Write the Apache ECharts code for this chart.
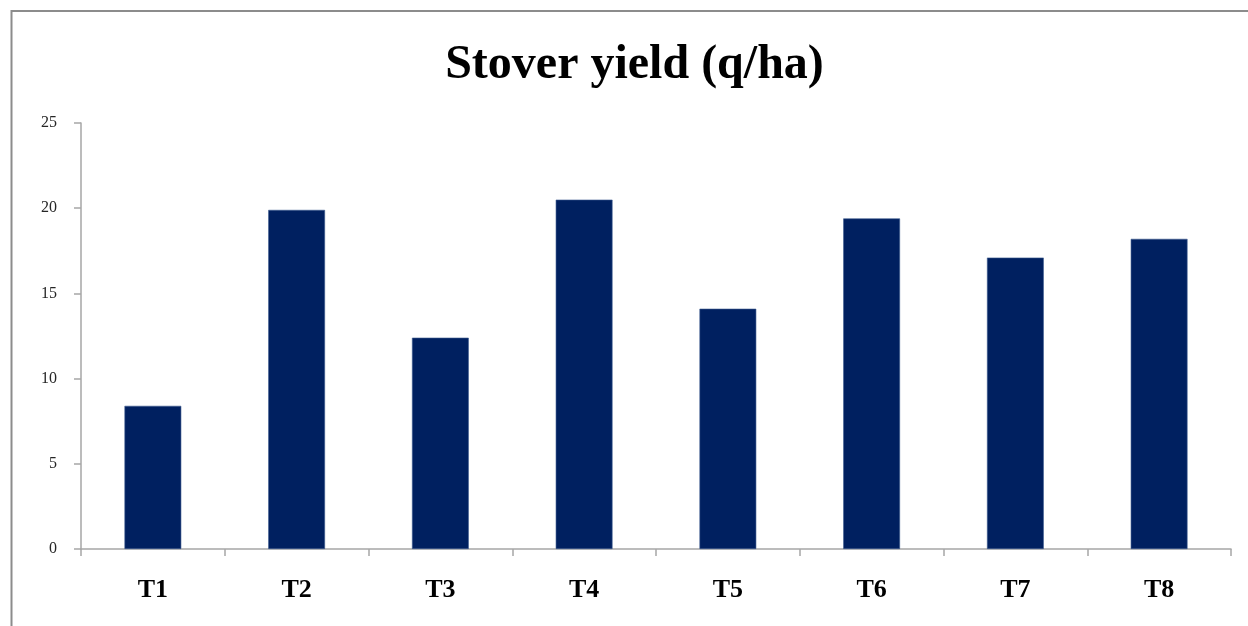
<!DOCTYPE html>
<html>
<head>
<meta charset="utf-8">
<script src="https://cdn.jsdelivr.net/npm/echarts@6/dist/echarts.min.js"></script>
<style>
  html, body { margin: 0; padding: 0; background: #ffffff; }
  #chart { width: 1248px; height: 626px; }
</style>
</head>
<body>
<div id="chart"></div>
<script>
// Treatments and stover yield (q/ha)
const categories = ['T1', 'T2', 'T3', 'T4', 'T5', 'T6', 'T7', 'T8'];
const stoverYield = [8.4, 19.9, 12.4, 20.5, 14.1, 19.4, 17.1, 18.2];
const yTicks = { min: 0, max: 25, interval: 5 };
const titleText = 'Stover yield (q/ha)';

const serif = '"Liberation Serif", "Times New Roman", serif';
const chart = echarts.init(document.getElementById('chart'), null, { renderer: 'canvas' });

chart.setOption({
  animation: false,
  backgroundColor: '#ffffff',
  graphic: [
    {
      // outer frame of the chart area
      type: 'rect',
      shape: { x: 11.5, y: 11, width: 1400, height: 800 },
      style: { fill: 'none', stroke: '#8c8c8c', lineWidth: 2 },
      silent: true
    },
    {
      type: 'text',
      x: 634.5,
      y: 66,
      style: {
        text: titleText,
        font: 'bold 48px ' + serif,
        fill: '#000000',
        align: 'center',
        verticalAlign: 'middle'
      }
    }
  ],
  grid: { left: 81, right: 17, top: 123, bottom: 77, containLabel: false },
  xAxis: {
    type: 'category',
    data: categories,
    boundaryGap: true,
    axisLine: { show: true, lineStyle: { color: '#a6a6a6', width: 1.5 } },
    axisTick: { show: true, inside: false, length: 7, alignWithLabel: false, lineStyle: { color: '#a6a6a6', width: 1.5 } },
    axisLabel: {
      margin: 28,
      color: '#000000',
      fontFamily: serif,
      fontWeight: 'bold',
      fontSize: 26
    },
    splitLine: { show: false }
  },
  yAxis: {
    type: 'value',
    min: yTicks.min,
    max: yTicks.max,
    interval: yTicks.interval,
    axisLine: { show: true, lineStyle: { color: '#a6a6a6', width: 1.5 } },
    axisTick: { show: true, length: 7, lineStyle: { color: '#a6a6a6', width: 1.5 } },
    axisLabel: {
      margin: 24,
      color: '#262626',
      fontFamily: serif,
      fontSize: 16
    },
    splitLine: { show: false }
  },
  series: [
    {
      type: 'bar',
      data: stoverYield,
      barWidth: '39.5%',
      itemStyle: { color: '#002060', borderColor: '#3d5a8f', borderWidth: 0.6 }
    }
  ]
});
</script>
</body>
</html>
